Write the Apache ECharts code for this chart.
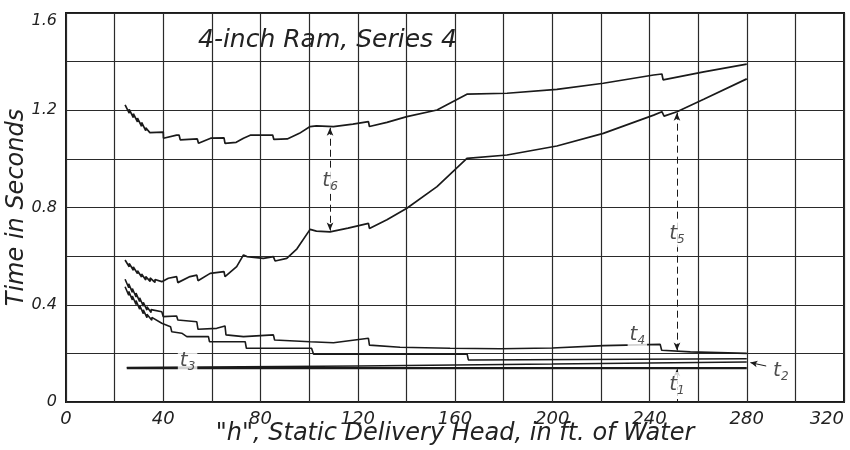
<!DOCTYPE html>
<html>
<head>
<meta charset="utf-8">
<style>
  html, body { margin: 0; padding: 0; background: #ffffff; }
  #chart { width: 850px; height: 450px; }
</style>
<script src="https://cdn.jsdelivr.net/npm/echarts@6/dist/echarts.min.js"></script>
</head>
<body>
<div id="chart"></div>
<script>
// Ram timing intervals against static delivery head (ft of water), seconds.
const xTicks = [0, 40, 80, 120, 160, 200, 240, 280, 320];
const yTicks = [0, 0.4, 0.8, 1.2, 1.6];

// Upper envelope (top of t6); the sawtooth start is drawn as drop / jump pairs
const curveTop = [
  [24.3,1.222],[26,1.188],[26,1.204],[27.7,1.170],[27.7,1.186],[29.4,1.152],[29.4,1.168],
  [31.1,1.134],[31.1,1.150],[32.8,1.116],[32.8,1.128],[34.5,1.108],[40,1.110],[40.1,1.085],
  [45.5,1.098],[46.5,1.098],[47,1.078],[54,1.082],[54.5,1.064],[59.5,1.085],[65,1.086],
  [65.4,1.064],[70,1.068],[73,1.085],[76,1.098],[85,1.098],[85.5,1.08],[91,1.082],
  [96,1.105],[100.4,1.133],[103,1.136],[110,1.133],[118,1.143],[124.4,1.153],[124.8,1.133],
  [132,1.15],[140.2,1.174],[152.6,1.201],[164.9,1.266],[181.4,1.27],[201.9,1.286],
  [221,1.311],[241.7,1.345],[245.1,1.349],[245.6,1.325],[262.3,1.358],[280,1.39]
];

// Second curve (bottom of t6, top of t5)
const curveSecond = [
  [24.3,0.584],[26,0.556],[26,0.570],[27.7,0.542],[27.7,0.556],[29.4,0.528],[29.4,0.540],
  [31.1,0.514],[31.1,0.526],[32.8,0.502],[32.8,0.516],[34.6,0.496],[34.6,0.510],[36.6,0.492],
  [36.6,0.504],[39.4,0.495],[42.1,0.509],[45.5,0.516],[46,0.491],[51,0.516],[53.8,0.522],
  [54.3,0.499],[59.3,0.529],[65,0.536],[65.4,0.516],[70.2,0.557],[73,0.605],[74.4,0.598],
  [81.2,0.591],[85.3,0.598],[86,0.58],[90.8,0.591],[95,0.63],[100.4,0.71],[103,0.703],
  [108.6,0.70],[116,0.715],[124.4,0.735],[124.8,0.714],[132,0.75],[140.2,0.797],
  [152.6,0.886],[164.9,1.002],[181.4,1.016],[201.9,1.053],[221,1.105],[241.7,1.18],
  [245.1,1.194],[246,1.176],[251.3,1.194],[262.3,1.245],[280,1.329]
];

// Third curve (top of t4)
const curveThird = [
  [24.3,0.505],[25.8,0.470],[25.8,0.486],[27.3,0.451],[27.3,0.467],[28.8,0.432],[28.8,0.448],
  [30.3,0.413],[30.3,0.429],[31.8,0.394],[31.8,0.410],[33.3,0.378],[33.3,0.392],[35,0.368],
  [35,0.380],[39.4,0.371],[40,0.351],[45.5,0.354],[46,0.337],[53.8,0.33],[54.3,0.299],
  [62,0.303],[65.4,0.313],[65.8,0.276],[73,0.269],[85.3,0.276],[85.8,0.255],[100.4,0.248],
  [110,0.244],[124.4,0.262],[124.8,0.234],[137.4,0.225],[158,0.221],[178.6,0.219],
  [200,0.222],[221.1,0.232],[244.4,0.237],[245,0.213],[256.8,0.206],[280,0.2]
];

// Fourth curve (stepped)
const curveFourth = [
  [24.3,0.474],[25.8,0.439],[25.8,0.455],[27.3,0.420],[27.3,0.436],[28.8,0.401],[28.8,0.417],
  [30.3,0.382],[30.3,0.398],[31.8,0.363],[31.8,0.379],[33.3,0.347],[33.3,0.361],[35.3,0.336],
  [35.3,0.348],[39.4,0.324],[43,0.31],[43.5,0.289],[47.6,0.283],[49.7,0.269],[58.6,0.269],
  [59,0.248],[73.7,0.248],[74.2,0.221],[101,0.221],[101.8,0.197],[165,0.197],
  [165.5,0.173],[280,0.178]
];

// t2 and t1 lines
const lineT2 = [[25,0.142],[120,0.148],[200,0.156],[280,0.165]];
const lineT1 = [[25,0.139],[280,0.139]];

// Interval markers: [x, yFrom, yTo]
const markT6 = [108.6, 1.128, 0.705];
const markT5 = [251.3, 1.19, 0.212];
const markT1 = [251.3, 0.0, 0.135];
// t2 pointer: [xFrom, yFrom, xTo, yTo]
const markT2 = [288, 0.148, 281.5, 0.162];

// Interval labels: [name, subscript, x, y]
const intervalLabels = [
  ['t', '6', 108.6, 0.91],
  ['t', '5', 251.3, 0.69],
  ['t', '3', 50, 0.17],
  ['t', '4', 235, 0.275],
  ['t', '1', 251.3, 0.07],
  ['t', '2', 294, 0.13]
];

const ink = '#1a1a1a';
const font = 'DejaVu Sans';

const chart = echarts.init(document.getElementById('chart'));

function curve(data, w) {
  return {
    type: 'line', data: data, showSymbol: false, symbol: 'none',
    lineStyle: { color: ink, width: w }, animation: false, silent: true, z: 5
  };
}

function arrowLine(m) {
  return [{ coord: [m[0], m[1]] }, { coord: [m[0], m[2]] }];
}

const richT = {
  t: { fontSize: 20, fontStyle: 'italic', fontFamily: font, color: '#222' },
  s: { fontSize: 12, fontStyle: 'italic', fontFamily: font, color: '#222', padding: [12, 0, 0, 0] }
};

chart.setOption({
  backgroundColor: '#ffffff',
  animation: false,
  grid: {
    left: 66, right: 6, top: 13, bottom: 48, containLabel: false, outerBoundsMode: 'none',
    show: true, borderColor: ink, borderWidth: 2
  },
  title: {
    text: '4-inch Ram, Series 4', left: 193, top: 23,
    textStyle: { fontFamily: font, fontStyle: 'italic', fontWeight: 'normal', fontSize: 25, color: '#222' }
  },
  xAxis: {
    type: 'value', min: 0, max: 320, interval: 20,
    name: '"h", Static Delivery Head, in ft. of Water',
    nameLocation: 'middle', nameGap: 20, nameMoveOverlap: false,
    nameTextStyle: { fontFamily: font, fontStyle: 'italic', fontSize: 24, color: '#222' },
    axisLine: { show: false }, axisTick: { show: false },
    axisLabel: {
      margin: 8, fontFamily: font, fontStyle: 'italic', fontSize: 18, color: '#222',
      alignMaxLabel: 'right',
      formatter: v => (xTicks.indexOf(v) >= 0 ? String(v) : '')
    },
    splitLine: { show: true, lineStyle: { color: '#2a2a2a', width: 1.2 } }
  },
  yAxis: {
    type: 'value', min: 0, max: 1.6, interval: 0.2,
    name: 'Time in Seconds', nameLocation: 'middle', nameGap: 37, nameRotate: 90,
    nameMoveOverlap: false,
    nameTextStyle: { fontFamily: font, fontStyle: 'italic', fontSize: 24, color: '#222' },
    axisLine: { show: false }, axisTick: { show: false },
    axisLabel: {
      margin: 9, fontFamily: font, fontStyle: 'italic', fontSize: 16, color: '#222',
      verticalAlignMaxLabel: 'top',
      formatter: v => {
        const r = Math.round(v * 10) / 10;
        return yTicks.some(t => Math.abs(t - r) < 1e-6) ? (r === 0 ? '0' : r.toFixed(1)) : '';
      }
    },
    splitLine: { show: true, lineStyle: { color: '#2a2a2a', width: 1.2 } }
  },
  series: [
    curve(curveTop, 1.7),
    curve(curveSecond, 1.7),
    curve(curveThird, 1.6),
    curve(curveFourth, 1.6),
    curve(lineT2, 1.5),
    curve(lineT1, 2.2),
    {
      type: 'line', data: [], silent: true, animation: false,
      markLine: {
        silent: true, symbol: ['arrow', 'arrow'], symbolSize: [5, 8],
        label: { show: false },
        lineStyle: { color: ink, width: 1, type: [7, 4] },
        data: [arrowLine(markT6), arrowLine(markT5)]
      }
    },
    {
      type: 'line', data: [], silent: true, animation: false,
      markLine: {
        silent: true, symbol: ['none', 'arrow'], symbolSize: [5, 7],
        label: { show: false },
        lineStyle: { color: ink, width: 1, type: [3, 3] },
        data: [
          arrowLine(markT1),
          [{ coord: [markT2[0], markT2[1]] }, { coord: [markT2[2], markT2[3]], lineStyle: { type: 'solid' } }]
        ]
      }
    },
    {
      type: 'scatter', symbolSize: 0, silent: true, animation: false, z: 10,
      data: intervalLabels.map(d => ({ value: [d[2], d[3]], name: d[0] + d[1] })),
      label: {
        show: true, position: 'inside',
        backgroundColor: '#ffffff', padding: [1, 2, 1, 2],
        formatter: p => '{t|t}{s|' + intervalLabels[p.dataIndex][1] + '}',
        rich: richT
      }
    }
  ]
});
</script>
</body>
</html>
